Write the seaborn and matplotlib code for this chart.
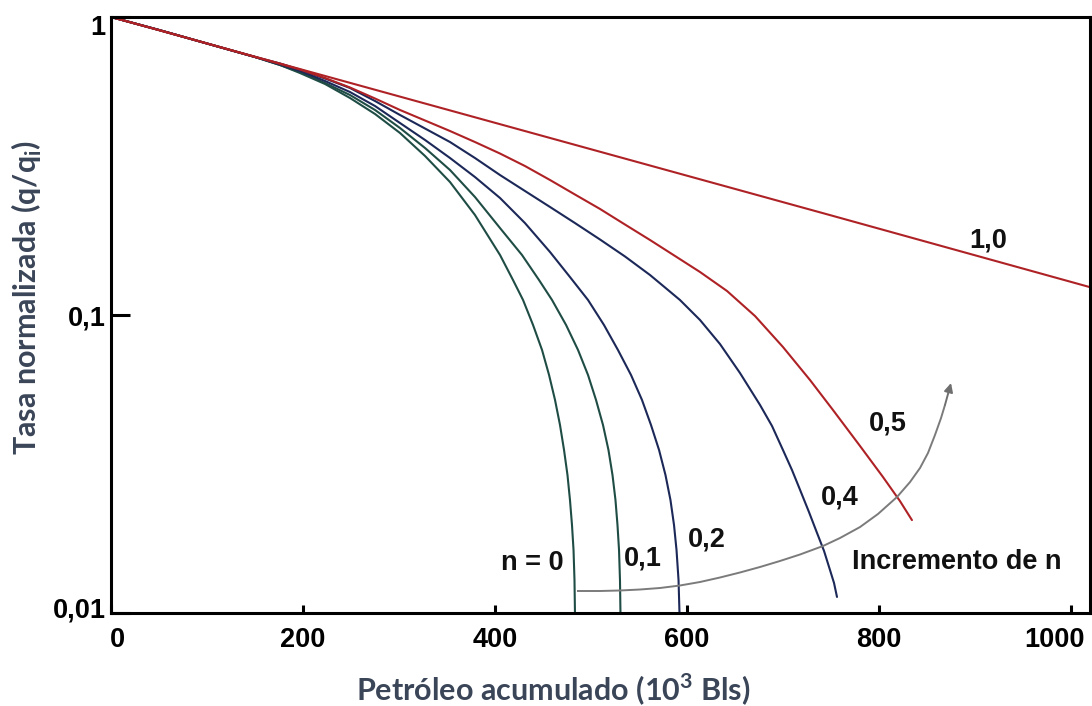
import matplotlib
matplotlib.use("Agg")
import numpy as np
import pandas as pd
import matplotlib.pyplot as plt
import matplotlib.transforms as mtransforms
import seaborn as sns
from matplotlib.ticker import FixedLocator, FixedFormatter, NullLocator

# ---------------- data (Np in 10^3 bbl, q/qi) ----------------
np_n00 = [0, 50, 100, 150, 176.1, 196.9, 223.0, 249.0, 275.1, 301.1, 327.2, 353.2, 379.2,
          405.3, 418.8, 429.3, 439.7, 449.1, 456.4, 462.6, 467.8, 472.0, 475.6, 478.2,
          480.3, 481.9, 482.9, 483.4]
q_n00 = [1, 0.9045, 0.8148, 0.7342, 0.6901, 0.6487, 0.5959, 0.5348, 0.4726, 0.4081,
         0.3416, 0.2794, 0.2166, 0.1590, 0.1311, 0.1123, 0.0926, 0.0763, 0.0629, 0.0519,
         0.04275, 0.03524, 0.02904, 0.02394, 0.01973, 0.01627, 0.01290, 0.01]

np_n01 = [0, 50, 100, 150, 176.1, 196.9, 223.0, 249.0, 275.1, 301.1, 327.2, 353.2, 379.2,
          405.3, 428.2, 445.9, 459.5, 474.1, 486.6, 497.0, 505.3, 512.6, 518.3, 522.5,
          525.6, 527.7, 529.3, 530.3, 530.8]
q_n01 = [1, 0.9045, 0.8148, 0.7342, 0.6901, 0.6537, 0.6005, 0.5473, 0.4875, 0.4241,
         0.3634, 0.3066, 0.2489, 0.1958, 0.1590, 0.1311, 0.1123, 0.0926, 0.0763, 0.0629,
         0.0519, 0.04275, 0.03524, 0.02904, 0.02394, 0.01973, 0.01627, 0.01290, 0.01]

np_n02 = [0, 50, 100, 150, 176.1, 196.9, 223.0, 249.0, 275.1, 301.1, 327.2, 353.2, 379.2,
          405.3, 431.3, 457.4, 478.2, 497.0, 513.6, 528.2, 541.8, 553.2, 562.6, 571.0,
          577.7, 582.9, 586.6, 589.2, 591.3, 592.3]
q_n02 = [1, 0.9045, 0.8148, 0.7342, 0.6928, 0.6588, 0.6098, 0.5601, 0.5026, 0.4408,
         0.3866, 0.3364, 0.2904, 0.2470, 0.2035, 0.1627, 0.1341, 0.1123, 0.0926, 0.0763,
         0.0629, 0.0519, 0.04275, 0.03524, 0.02904, 0.02394, 0.01973, 0.01627, 0.01290,
         0.01]

np_n04 = [0, 50, 100, 150, 176.1, 196.9, 223.0, 249.0, 275.1, 301.1, 327.2, 353.2, 379.2,
          405.3, 431.3, 457.4, 483.4, 509.5, 535.5, 561.6, 577.2, 592.8, 613.7, 634.5,
          655.3, 676.2, 688.7, 700.1, 709.5, 717.9, 727.2, 735.6, 742.9, 749.1, 753.3,
          756.4]
q_n04 = [1, 0.9045, 0.8148, 0.7342, 0.6982, 0.6639, 0.6217, 0.5778, 0.5225, 0.4690,
         0.4224, 0.3806, 0.3364, 0.2949, 0.2607, 0.2304, 0.2035, 0.1792, 0.1572, 0.1362,
         0.1237, 0.1123, 0.0962, 0.0799, 0.0639, 0.0499, 0.04242, 0.03524, 0.03019,
         0.0259, 0.02182, 0.01856, 0.01615, 0.01394, 0.01261, 0.01132]

np_n05 = [0, 50, 100, 150, 176.1, 196.9, 223.0, 249.0, 275.1, 301.1, 327.2, 353.2, 379.2,
          405.3, 431.3, 457.4, 483.4, 509.5, 535.5, 561.6, 587.6, 613.7, 641.8, 671.0,
          700.1, 728.3, 752.2, 780.4, 804.3, 822.0, 834.5]
q_n05 = [1, 0.9045, 0.8148, 0.7342, 0.6966, 0.6666, 0.6241, 0.5800, 0.5327, 0.4875,
         0.4494, 0.4144, 0.3806, 0.3482, 0.3162, 0.2838, 0.2537, 0.2269, 0.2012, 0.1785,
         0.1578, 0.1394, 0.1204, 0.0992, 0.0781, 0.0605, 0.0480, 0.03634, 0.0286,
         0.02375, 0.0205]

np_n10 = [0, 250, 500, 750, 1020]
q_n10 = [1, 0.600, 0.360, 0.216, 0.124]

curve_names = ["n = 0", "0,1", "0,2", "0,4", "0,5", "1,0"]
curve_np = [np_n00, np_n01, np_n02, np_n04, np_n05, np_n10]
curve_q = [q_n00, q_n01, q_n02, q_n04, q_n05, q_n10]

# label anchor positions (Np, q/qi)
label_np = [438.6, 554.3, 621.0, 759.5, 809.5, 913.7]
label_q = [0.01472, 0.01529, 0.01758, 0.0245, 0.0434, 0.1785]

# "Incremento de n" arrow path
arrow_np = [485.5, 509.5, 530.3, 551.2, 572.0, 592.8, 613.7, 634.5, 655.3, 676.2, 697.0,
            717.9, 741.8, 759.5, 780.4, 799.1, 818.9, 832.5, 842.9, 851.2, 858.5, 864.8,
            868.9, 875.2]
arrow_q = [0.011853, 0.011853, 0.011899, 0.011991, 0.012131, 0.012368, 0.012707,
           0.013156, 0.013675, 0.014269, 0.014946, 0.015716, 0.016781, 0.017849,
           0.019431, 0.021489, 0.024502, 0.027513, 0.030664, 0.034431, 0.039576,
           0.045119, 0.049888, 0.059118]
arrow_text = "Incremento de n"
arrow_text_pos = (881.4, 0.01483)

x_ticks = [0, 200, 400, 600, 800, 1000]
x_ticklabels = ["0", "200", "400", "600", "800", "1000"]
y_ticks = [0.01, 0.1, 1]
y_ticklabels = ["0,01", "0,1", "1"]

# ---------------- styling ----------------
green = "#1f4d45"
navy = "#1c2858"
red = "#ae2226"
palette = {"n = 0": green, "0,1": green, "0,2": navy, "0,4": navy, "0,5": red, "1,0": red}
label_color = "#3a4558"
txt_size = 19.5

sns.set_theme(style="white")
plt.rcParams['font.family'] = ['Liberation Sans', 'DejaVu Sans']
plt.rcParams['mathtext.fontset'] = 'custom'
plt.rcParams['mathtext.rm'] = 'Lato'
plt.rcParams['mathtext.bf'] = 'Lato:bold'

fig = plt.figure(figsize=(10.92, 7.06), dpi=100)
W, H = 1092, 706
ax = fig.add_axes([111 / W, 1 - 613 / H, 979 / W, 596 / H])

frames = []
for name, xs, qs in zip(curve_names, curve_np, curve_q):
    frames.append(pd.DataFrame({"Np": xs, "q": qs, "n": name}))
df = pd.concat(frames, ignore_index=True)

sns.lineplot(data=df, x="Np", y="q", hue="n", palette=palette, estimator=None,
             sort=False, units="n", linewidth=1.5, legend=False, ax=ax)

ax.set_yscale("log")
ax.set_xlim(0, 1020)
ax.set_ylim(0.01, 1)

# arrow
ax.plot(arrow_np[:-1], arrow_q[:-1], color="#7b7b7b", lw=1.4, solid_capstyle="butt")
ax.annotate("", xy=(arrow_np[-1], arrow_q[-1]), xytext=(arrow_np[-2], arrow_q[-2]),
            arrowprops=dict(arrowstyle="-|>", color="#6f6f6f", lw=1.4,
                            mutation_scale=13, shrinkA=0, shrinkB=0))

# curve labels
for name, lx, lq in zip(curve_names, label_np, label_q):
    ax.text(lx, lq, name, ha="center", va="center", fontsize=txt_size,
            fontweight="bold", color="#111111")
ax.text(arrow_text_pos[0], arrow_text_pos[1], arrow_text, ha="center", va="center",
        fontsize=txt_size, fontweight="bold", color="#111111")

# ticks
ax.xaxis.set_major_locator(FixedLocator(x_ticks))
ax.xaxis.set_major_formatter(FixedFormatter(x_ticklabels))
ax.yaxis.set_major_locator(FixedLocator(y_ticks))
ax.yaxis.set_major_formatter(FixedFormatter(y_ticklabels))
ax.yaxis.set_minor_locator(NullLocator())
ax.xaxis.set_minor_locator(NullLocator())
ax.tick_params(axis="x", direction="in", length=6, width=2.2, pad=10,
               labelsize=txt_size, colors="black", bottom=True)
ax.tick_params(axis="y", direction="in", length=14, width=2.2, pad=4,
               labelsize=txt_size, colors="black", left=True)
for lab in ax.get_xticklabels() + ax.get_yticklabels():
    lab.set_fontweight("bold")

# small offsets of edge labels, as in the reference
xl = ax.get_xticklabels()
xl[-1].set_transform(xl[-1].get_transform() +
                     mtransforms.ScaledTranslation(-16 / 100, 0, fig.dpi_scale_trans))
xl[0].set_transform(xl[0].get_transform() +
                    mtransforms.ScaledTranslation(6 / 100, 0, fig.dpi_scale_trans))
yl = ax.get_yticklabels()
yl[0].set_transform(yl[0].get_transform() +
                    mtransforms.ScaledTranslation(0, 6 / 100, fig.dpi_scale_trans))
yl[-1].set_transform(yl[-1].get_transform() +
                     mtransforms.ScaledTranslation(0, -8 / 100, fig.dpi_scale_trans))

for s in ax.spines.values():
    s.set_color("black")
    s.set_linewidth(2.2)
    s.set_visible(True)

ax.set_xlabel("Petróleo acumulado (10$^{\\mathbf{3}}$ Bls)", fontfamily="Lato",
              fontweight="bold", fontsize=22, color=label_color)
ax.set_ylabel("Tasa normalizada (q/q$_{\\mathbf{i}}$)", fontfamily="Lato",
              fontweight="bold", fontsize=22, color=label_color)
ax.xaxis.set_label_coords((553 - 111) / 979, (613 - 671) / 596)
ax.yaxis.set_label_coords((44 - 111) / 979, (613 - 297) / 596)
ax.grid(False)

fig.savefig("out.png", dpi=100)
